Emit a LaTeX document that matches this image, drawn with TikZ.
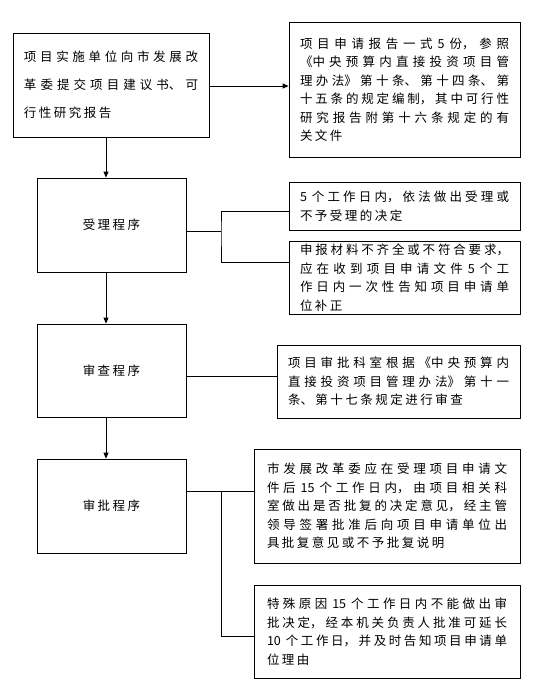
\documentclass[tikz,border=0pt]{standalone}
\usepackage{fontspec}
\usepackage{tikz}
\usetikzlibrary{arrows.meta, positioning}
\newfontfamily\cjk{Noto Sans CJK SC}
\XeTeXlinebreaklocale "zh"
\XeTeXlinebreakskip=2.5bp plus 6bp minus 1bp
\newcommand{\numsp}{\nobreak\hspace{5bp}\nobreak}

\begin{document}
\begin{tikzpicture}[x=1bp, y=-1bp,
    stepbox/.style={rectangle, draw=black, line width=0.8bp, inner sep=0pt,
                text width=149bp, align=flush center,
                font=\cjk\fontsize{12.5bp}{18.5bp}\selectfont},
    note/.style={rectangle, draw=black, line width=0.8bp, align=justify,
                inner xsep=11bp, inner ysep=0pt,
                font=\cjk\fontsize{12.5bp}{18.5bp}\selectfont},
    line/.style={line width=0.8bp},
    arr/.style={line width=0.8bp, -{Triangle[length=6bp,width=5bp]}}
]
\useasboundingbox (0,0) rectangle (545,689);

\node[note, text width=174bp, minimum height=104bp, font=\cjk\fontsize{12.5bp}{28bp}\selectfont] (apply) at (111,85)
    {项目实施单位向市发展改\linebreak 革委提交项目建议书、可\linebreak 行性研究报告};
\node[note, text width=209bp, minimum height=135bp] (docs) at (404.5,89.5)
    {项目申请报告一式\numsp 5\numsp 份，参照\linebreak 《中央预算内直接投资项目管\linebreak 理办法》第十条、第十四条、第\linebreak 十五条的规定编制，其中可行性\linebreak 研究报告附第十六条规定的有\linebreak 关文件};

\node[stepbox, minimum height=94bp] (accept) at (111.5,225) {受理程序};
\node[note, text width=209bp, minimum height=48bp] (acc1) at (404.5,206)
    {5\numsp 个工作日内，依法做出受理或\linebreak 不予受理的决定};
\node[note, text width=209bp, minimum height=73bp] (acc2) at (404.5,277.5)
    {申报材料不齐全或不符合要求，\linebreak 应在收到项目申请文件\numsp 5\numsp 个工\linebreak 作日内一次性告知项目申请单\linebreak 位补正};

\node[stepbox, minimum height=93bp] (review) at (111.5,370.5) {审查程序};
\node[note, text width=221bp, minimum height=73bp] (rev1) at (398.5,381.5)
    {项目审批科室根据《中央预算内\linebreak 直接投资项目管理办法》第十一\linebreak 条、第十七条规定进行审查};

\node[stepbox, minimum height=94bp] (approve) at (111.5,506) {审批程序};
\node[note, text width=240bp, minimum height=114bp, inner xsep=13bp] (apr1) at (387,506)
    {市发展改革委应在受理项目申请文\linebreak 件后\numsp 15\numsp 个工作日内，由项目相关科\linebreak 室做出是否批复的决定意见，经主管\linebreak 领导签署批准后向项目申请单位出\linebreak 具批复意见或不予批复说明};
\node[note, text width=240bp, minimum height=93bp, inner xsep=13bp] (apr2) at (387,631.5)
    {特殊原因\numsp 15\numsp 个工作日内不能做出审\linebreak 批决定，经本机关负责人批准可延长\linebreak 10\numsp 个工作日，并及时告知项目申请单\linebreak 位理由};

% main flow
\coordinate (spine) at (106,0);
\draw[arr] (apply.east |- 0,86) -- (docs.west |- 0,86);
\draw[arr] (apply.south -| spine) -- (accept.north -| spine);
\draw[arr] (accept.south -| spine) -- (review.north -| spine);
\draw[arr] (review.south -| spine) -- (approve.north -| spine);

% side branches
\coordinate (fork1) at (221,231);
\draw[line] (accept.east |- fork1) -- (fork1);
\draw[line] ([yshift=-5bp]acc1.west) -| (fork1) |- ([yshift=15.5bp]acc2.west);
\draw[line] ([yshift=-5.5bp]review.east) -- ([yshift=-5.5bp]review.east -| rev1.west);
\coordinate (fork2) at (221,491);
\draw[line] (approve.east |- fork2) -- (apr1.west |- fork2);
\draw[line] (fork2) |- ([yshift=-4.5bp]apr2.west);

\end{tikzpicture}
\end{document}
